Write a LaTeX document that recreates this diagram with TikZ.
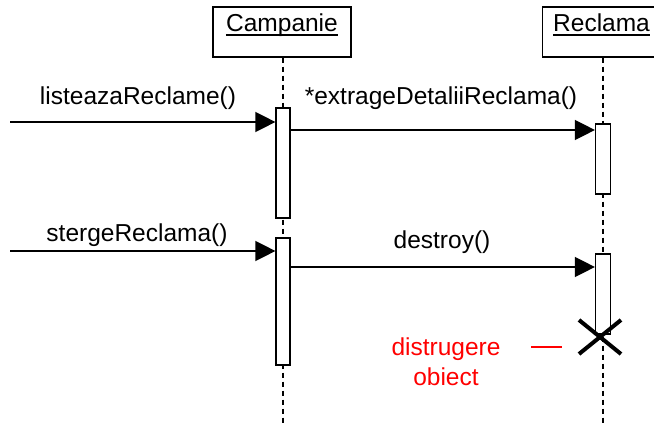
\documentclass[tikz,border=0pt]{standalone}
\usepackage{fontspec}
\setmainfont{Liberation Sans}
\usetikzlibrary{arrows.meta,calc}
\begin{document}
\begin{tikzpicture}[x=1pt,y=-1pt,
  font=\fontsize{24.5}{33}\selectfont,
  objbox/.style={draw,line width=1.3pt,fill=white,minimum height=50pt,inner sep=0pt},
  actbox/.style={draw,line width=1.2pt,fill=white,minimum width=14pt,inner sep=0pt},
  lifeline/.style={line width=1.1pt,dash pattern=on 5pt off 4pt},
  msg/.style={line width=1.4pt,-{Triangle[length=20pt,width=20pt]}},
  lbl/.style={anchor=base,inner sep=0pt},
  uline/.style={line width=1.3pt},
  note/.style={text=red,anchor=base,inner sep=0pt}]
\useasboundingbox (0,0) rectangle (654,425);
\clip (0,0) rectangle (654,425);

% object heads with underlined names
\node[objbox,minimum width=138pt] (campanie) at (282,32) {};
\node[lbl] (campanieTxt) at (282,32) {Campanie};
\draw[uline] ($(campanieTxt.base west)+(0,3)$) -- ($(campanieTxt.base east)+(0,3)$);
\node[objbox,minimum width=122pt,anchor=west] (reclama) at (542,32) {};
\node[lbl,anchor=base west] (reclamaTxt) at (553,32) {Reclama};
\draw[uline] ($(reclamaTxt.base west)+(0,3)$) -- ($(reclamaTxt.base east)+(0,3)$);

% lifelines
\coordinate (cend) at (283,425);
\coordinate (rend) at (603,425);
\draw[lifeline] (campanie.south -| cend) -- (cend);
\draw[lifeline] (reclama.south -| rend) -- (rend);

% activation bars
\node[actbox,minimum height=110pt] (ca1) at (283,163) {};
\node[actbox,minimum height=127pt] (ca2) at (283,301.5) {};
\node[actbox,minimum width=15pt,minimum height=70pt] (ra1) at (603,159) {};
\node[actbox,minimum width=15pt,minimum height=80pt] (ra2) at (603,294) {};

% incoming message ends
\coordinate (src1) at (10,122);
\coordinate (src2) at (10,251);

% messages
\draw[msg] (src1) -- (src1 -| ca1.west);
\draw[msg] (ca1.east |- 0,130) -- (ra1.west |- 0,130);
\draw[msg] (src2) -- (src2 -| ca2.west);
\draw[msg] (ca2.east |- 0,267) -- (ra2.west |- 0,267);

% message labels
\node[lbl] (m1) at (138,105) {listeazaReclame()};
\node[lbl] (m2) at (441,105) {*extrageDetaliiReclama()};
\node[lbl] (m3) at (137,242) {stergeReclama()};
\node[lbl] (m4) at (442,248) {destroy()};

% destruction mark
\coordinate (kill) at (600,337);
\draw[line width=4pt] ($(kill)+(-21,-17)$) -- ($(kill)+(21,17)$);
\draw[line width=4pt] ($(kill)+(-21,17)$) -- ($(kill)+(21,-17)$);

% annotation
\node[note] (txt1) at (446,355) {distrugere};
\node[note] (txt2) at (446,385) {obiect};
\coordinate (dashA) at (531,347);
\coordinate (dashB) at (562,347);
\draw[draw=red,line width=1.3pt] (dashA) -- (dashB);
\end{tikzpicture}
\end{document}
